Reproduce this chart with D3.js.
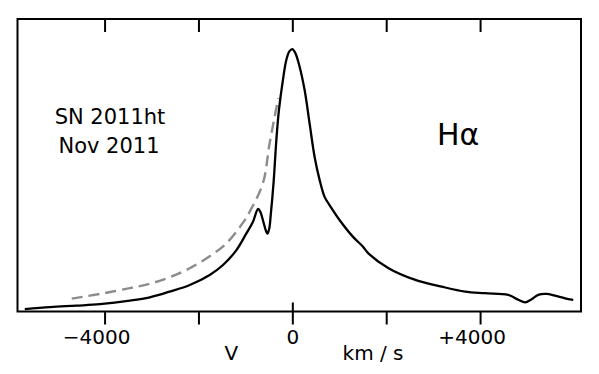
<!DOCTYPE html>
<html>
<head>
<meta charset="utf-8">
<script src="https://cdn.jsdelivr.net/npm/d3@7"></script>
<style>
  body { margin: 0; background: #fff; }
  text { font-family: "DejaVu Sans", Verdana, sans-serif; fill: #000; }
</style>
</head>
<body>
<svg id="chart" width="599" height="374"></svg>
<script>
// velocity (km/s) and normalised flux
const solidV = [-5700, -5160, -4600, -4100, -3462, -3036, -2611, -2185, -1760, -1477, -1191, -979, -838, -730, -680, -626, -560, -530, -490, -460, -400, -340, -285, -200, -128, -60, 0, 60, 155, 262, 368, 474, 581, 687, 793, 1006, 1289, 1502, 1620, 2050, 2620, 3180, 3680, 4100, 4600, 4815, 4958, 5098, 5240, 5417, 5596, 5810, 5985]
const solidF = [0.008, 0.015, 0.020, 0.025, 0.037, 0.0485, 0.068, 0.0906, 0.125, 0.159, 0.210, 0.267, 0.307, 0.351, 0.340, 0.312, 0.275, 0.266, 0.285, 0.330, 0.440, 0.587, 0.689, 0.792, 0.860, 0.890, 0.897, 0.885, 0.837, 0.757, 0.643, 0.529, 0.450, 0.392, 0.364, 0.313, 0.256, 0.222, 0.199, 0.148, 0.108, 0.085, 0.068, 0.0625, 0.057, 0.040, 0.031, 0.042, 0.057, 0.060, 0.054, 0.045, 0.040]

const dashV = [-4700, -4100, -3462, -3036, -2611, -2185, -1760, -1404, -1085, -909, -626, -483, -300]
const dashF = [0.044, 0.060, 0.080, 0.095, 0.117, 0.148, 0.189, 0.233, 0.296, 0.341, 0.439, 0.576, 0.729]

const tickValues = [-4000, -2000, 0, 2000, 4000]
const tickLabels = {"-4000": "\u22124000", "0": "0", "4000": "+4000"}

const svg = d3.select("#chart")
const margin = {left: 17.5, right: 581, top: 19, bottom: 311.5}

const x = d3.scaleLinear().domain([-5855, 6150]).range([margin.left, margin.right])
const y = d3.scaleLinear().domain([0, 1]).range([margin.bottom, margin.top])

// frame
svg.append("rect")
    .attr("x", margin.left).attr("y", margin.top)
    .attr("width", margin.right - margin.left).attr("height", margin.bottom - margin.top)
    .attr("fill", "none").attr("stroke", "#000").attr("stroke-width", 2)

// top ticks point inward
svg.append("g")
    .attr("transform", "translate(0," + margin.top + ")")
    .call(d3.axisTop(x).tickValues(tickValues).tickSize(-13).tickFormat(""))
    .call(g => g.select(".domain").remove())
    .selectAll("line").attr("stroke-width", 2)

// bottom ticks point outward, labels centred on digits
const xb = svg.append("g")
    .attr("transform", "translate(0," + margin.bottom + ")")
    .call(d3.axisBottom(x).tickValues(tickValues).tickSize(13).tickPadding(5)
        .tickFormat(d => tickLabels[d] || ""))
xb.select(".domain").remove()
xb.selectAll("line").attr("stroke-width", 2)
xb.selectAll("text")
    .attr("font-family", null)
    .style("font-size", "20px")
    .attr("dx", d => d === 0 ? 0 : "-0.42em")

// zero tick also crosses into the plot
svg.append("g")
    .attr("transform", "translate(0," + margin.bottom + ")")
    .call(d3.axisBottom(x).tickValues([0]).tickSize(-9).tickFormat(""))
    .call(g => g.select(".domain").remove())
    .selectAll("line").attr("stroke-width", 2)

const line = d3.line()
    .x(d => x(d[0]))
    .y(d => y(d[1]))
    .curve(d3.curveCatmullRom.alpha(0.5))

svg.append("path")
    .datum(dashV.map((v, i) => [v, dashF[i]]))
    .attr("fill", "none")
    .attr("stroke", "#8c8c8c")
    .attr("stroke-width", 2.4)
    .attr("stroke-dasharray", "11,6")
    .attr("d", line)

svg.append("path")
    .datum(solidV.map((v, i) => [v, solidF[i]]))
    .attr("fill", "none")
    .attr("stroke", "#000")
    .attr("stroke-width", 2.3)
    .attr("d", line)

// labels
svg.append("text").attr("x", x(-1300)).attr("y", 360)
    .attr("text-anchor", "middle").style("font-size", "20px").text("V")
svg.append("text").attr("x", x(1720)).attr("y", 360)
    .attr("text-anchor", "middle").style("font-size", "20px").text("km / s")

svg.append("text").attr("x", 110).attr("y", 124)
    .attr("text-anchor", "middle").style("font-size", "21px").text("SN 2011ht")
svg.append("text").attr("x", 109).attr("y", 153)
    .attr("text-anchor", "middle").style("font-size", "21px").text("Nov 2011")
svg.append("text").attr("x", 437).attr("y", 145)
    .style("font-size", "30px").text("H\u03b1")
</script>
</body>
</html>
